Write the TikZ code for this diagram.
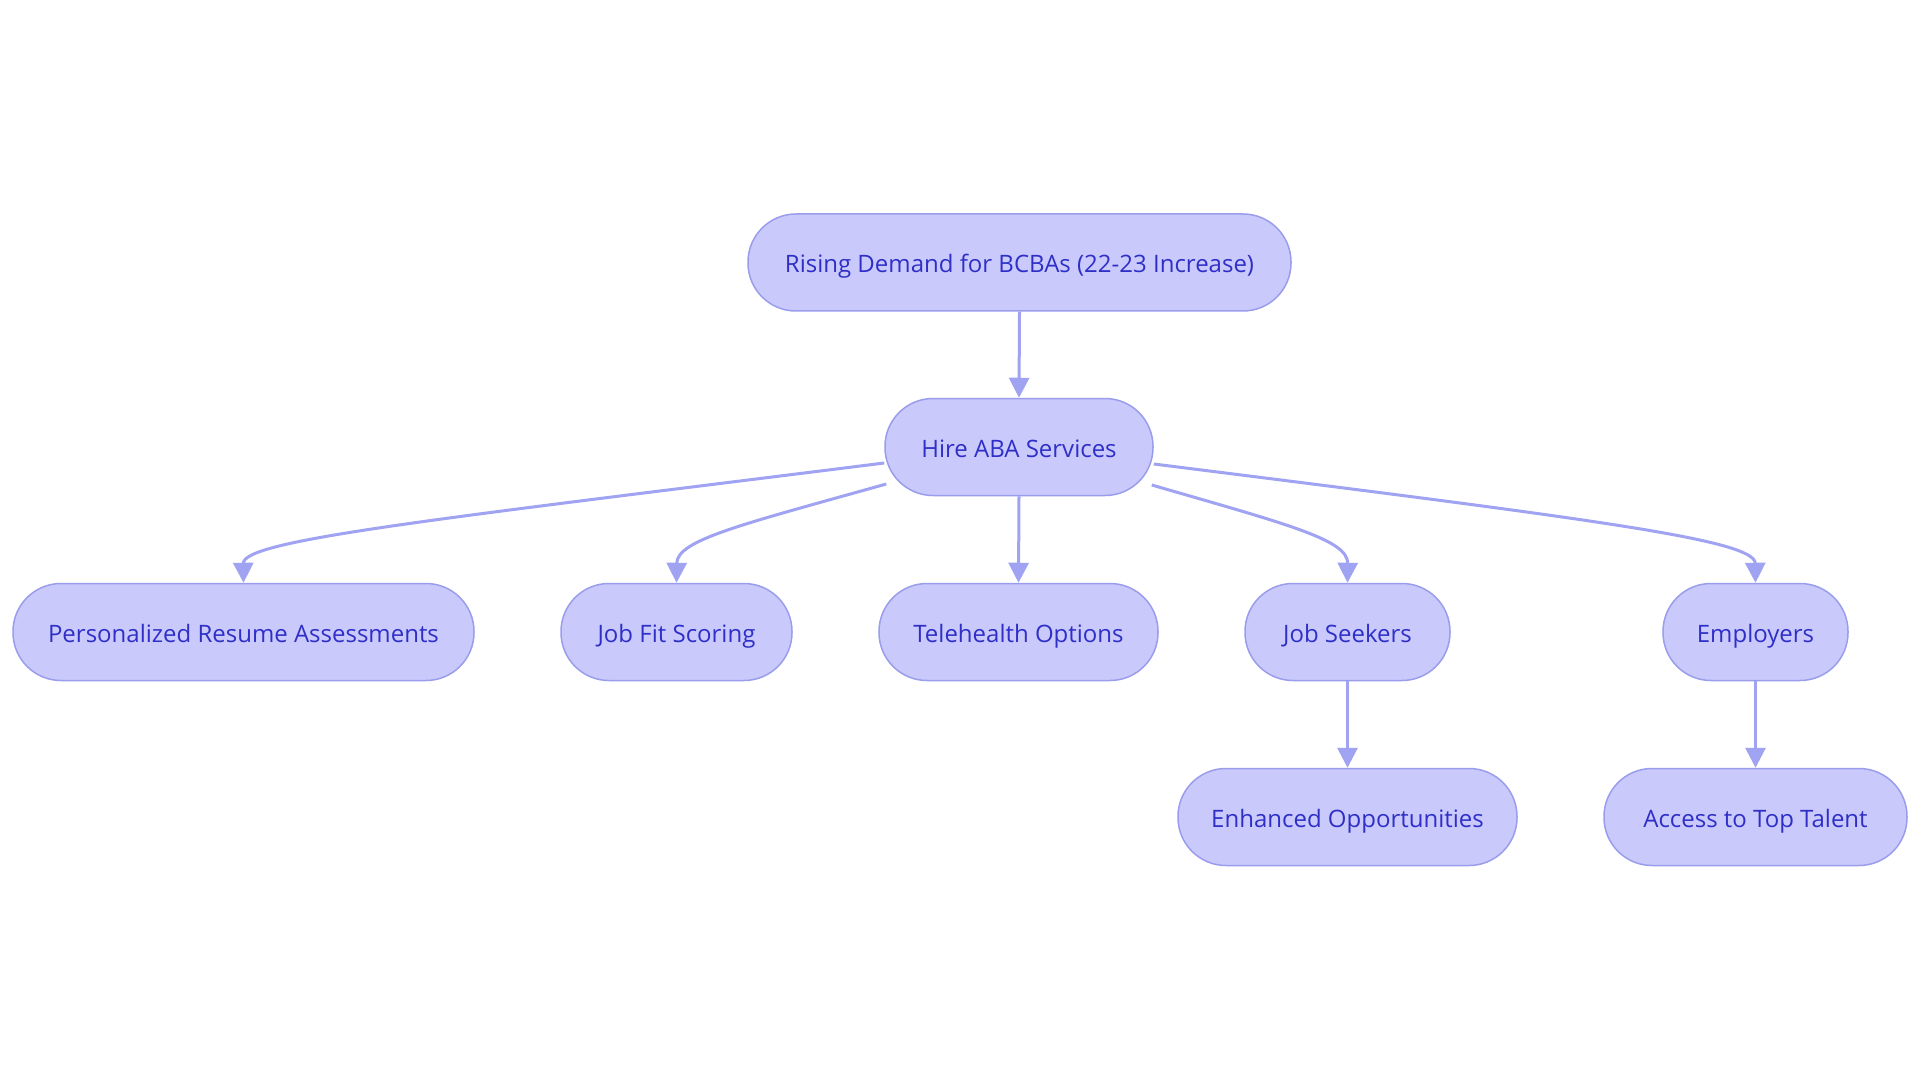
\documentclass[tikz,border=0pt]{standalone}
\usepackage{fontspec}
\setmainfont{Open Sans}
\usetikzlibrary{arrows.meta}
\definecolor{nodefill}{HTML}{C9CAFB}
\definecolor{nodedraw}{HTML}{9A9CEC}
\definecolor{nodetext}{HTML}{2F2FC8}
\definecolor{edgecol}{HTML}{A0A3F2}
\begin{document}
\begin{tikzpicture}[x=1pt,y=-1pt,
  box/.style={draw=nodedraw,fill=nodefill,line width=1.5pt,rounded corners=48pt,
    minimum height=97pt,inner sep=0pt,text=nodetext,text height=22pt,text depth=2pt,
    font=\fontsize{24}{28}\selectfont},
  conn/.style={draw=edgecol,line width=3pt,-{Triangle[length=20pt,width=20pt]}}]
\useasboundingbox[fill=white] (0,0) rectangle (1920,1083);
\node[box,minimum width=543pt] (root) at (1019.5,262.5) {Rising Demand for BCBAs (22-23 Increase)};
\node[box,minimum width=268pt] (hire) at (1019,447) {Hire ABA Services};
\node[box,minimum width=461pt] (pers) at (243.5,632) {Personalized Resume Assessments};
\node[box,minimum width=231pt] (fit) at (676.5,632) {Job Fit Scoring};
\node[box,minimum width=279pt] (tele) at (1018.5,632) {Telehealth Options};
\node[box,minimum width=205pt] (seek) at (1347.5,632) {Job Seekers};
\node[box,minimum width=185pt] (emp) at (1755.5,632) {Employers};
\node[box,minimum width=339pt] (enh) at (1347.5,817) {Enhanced Opportunities};
\node[box,minimum width=303pt] (acc) at (1755.5,817) {Access to Top Talent};
\draw[conn] (root.south) -- (hire.north);
\draw[conn] (hire.south) -- (tele.north);
\draw[conn] ([yshift=-16pt]hire.west) .. controls (430,520) and (243,540) .. (pers.north);
\draw[conn] ([yshift=-37pt,xshift=2pt]hire.west) .. controls (740,525) and (677,540) .. (fit.north);
\draw[conn] ([yshift=-38pt,xshift=-2pt]hire.east) .. controls (1290,525) and (1348,540) .. (seek.north);
\draw[conn] ([yshift=-17pt]hire.east) .. controls (1600,520) and (1755,540) .. (emp.north);
\draw[conn] (seek.south) -- (enh.north);
\draw[conn] (emp.south) -- (acc.north);
\end{tikzpicture}
\end{document}
